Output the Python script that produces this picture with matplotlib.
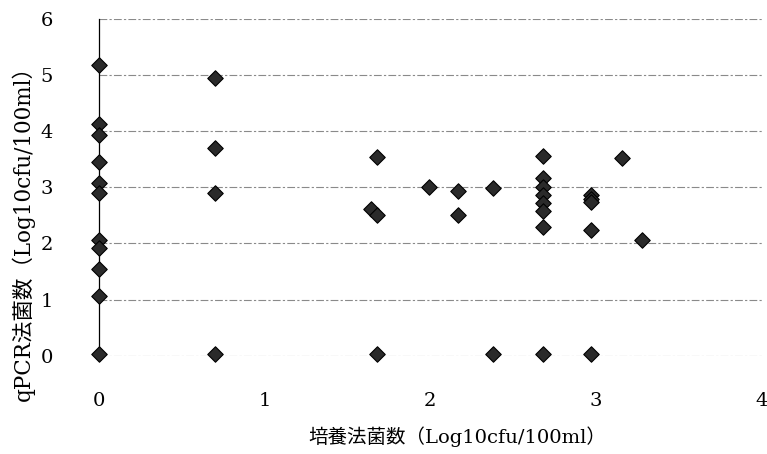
import matplotlib
matplotlib.use("Agg")
import matplotlib.pyplot as plt

# 培養法 vs qPCR法 (Log10cfu/100ml)
culture = [0, 0, 0, 0, 0, 0, 0, 0, 0, 0, 0,
           0.7, 0.7, 0.7, 0.7,
           1.64, 1.68, 1.68, 1.68,
           1.99,
           2.17, 2.17,
           2.38, 2.38,
           2.68, 2.68, 2.68, 2.68, 2.68, 2.68, 2.68, 2.68,
           2.97, 2.97, 2.97, 2.97, 2.97,
           3.16, 3.28]
qpcr = [5.18, 4.13, 3.93, 3.45, 3.07, 2.9, 2.07, 1.92, 1.55, 1.07, 0.03,
        4.95, 3.7, 2.9, 0.03,
        2.62, 2.5, 3.53, 0.03,
        3.0,
        2.94, 2.5,
        2.98, 0.03,
        3.55, 3.16, 3.0, 2.86, 2.72, 2.58, 2.29, 0.03,
        2.87, 2.8, 2.74, 2.24, 0.03,
        3.52, 2.07]

xticks = [0, 1, 2, 3, 4]
yticks = [0, 1, 2, 3, 4, 5, 6]

fam = ["DejaVu Serif", "Noto Sans CJK JP"]

fig = plt.figure(figsize=(7.67, 4.54), dpi=100)
ax = fig.add_axes([0.129, 0.216, 0.864, 0.743])

ax.scatter(culture, qpcr, marker="D", s=62, color="#2a2a2a",
           edgecolors="black", linewidths=0.8, zorder=3, clip_on=False)

ax.set_xlim(0, 4)
ax.set_ylim(0, 6)
ax.set_xticks(xticks)
ax.set_yticks(yticks)
ax.grid(axis="y", color="#8a8a8a", linestyle=(0, (7, 2, 2, 2)), linewidth=0.8)
ax.set_axisbelow(True)
for s in ["top", "right", "bottom"]:
    ax.spines[s].set_visible(False)
ax.spines["left"].set_linewidth(0.9)
ax.tick_params(length=0, labelsize=14)
ax.tick_params(axis="x", pad=26)
ax.tick_params(axis="y", pad=33)
for lab in ax.get_xticklabels() + ax.get_yticklabels():
    lab.set_family(fam)

ax.set_xlabel("培養法菌数（Log10cfu/100ml）", family=fam, fontsize=14, va="center")
ax.set_ylabel("qPCR法菌数（Log10cfu/100ml）", family=fam, fontsize=15.5, va="center")
ax.xaxis.set_label_coords(0.54, -0.24)
ax.yaxis.set_label_coords(-0.115, 0.38)

fig.savefig("out.png", dpi=100, facecolor="white")
